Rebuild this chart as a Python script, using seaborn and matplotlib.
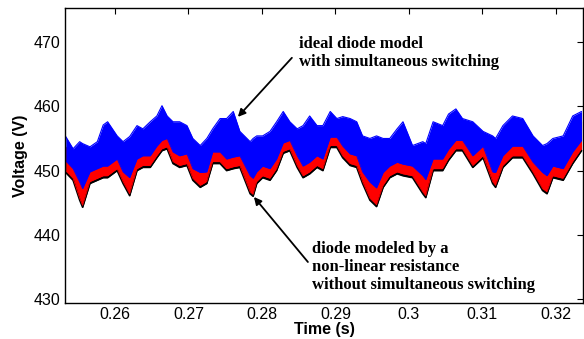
import matplotlib
matplotlib.use("Agg")
import matplotlib.pyplot as plt
import seaborn as sns
import pandas as pd

# ---- data (envelopes of the switching ripple) ----
time_s = [0.2533, 0.2543, 0.2552, 0.2556, 0.2566, 0.2576, 0.2584, 0.2590, 0.2603, 0.2611,
          0.2620, 0.2630, 0.2638, 0.2648, 0.2657, 0.2664, 0.2671, 0.2679, 0.2688, 0.2698,
          0.2706, 0.2716, 0.2725, 0.2733, 0.2743, 0.2752, 0.2761, 0.2770, 0.2784, 0.2788,
          0.2793, 0.2801, 0.2811, 0.2820, 0.2829, 0.2838, 0.2848, 0.2856, 0.2865, 0.2875,
          0.2883, 0.2893, 0.2902, 0.2910, 0.2920, 0.2929, 0.2937, 0.2947, 0.2956, 0.2965,
          0.2974, 0.2984, 0.2992, 0.3005, 0.3019, 0.3023, 0.3033, 0.3046, 0.3054, 0.3064,
          0.3073, 0.3087, 0.3101, 0.3114, 0.3118, 0.3128, 0.3141, 0.3155, 0.3169, 0.3182,
          0.3188, 0.3196, 0.3210, 0.3223, 0.3235]

ideal_high = [455.3, 453.4, 454.5, 454.2, 453.7, 454.5, 457.1, 457.6, 455.4, 454.5,
              455.3, 457.0, 456.5, 457.6, 458.5, 460.1, 458.5, 457.6, 457.6, 457.0,
              455.0, 453.9, 455.0, 456.5, 458.1, 458.1, 459.2, 456.1, 454.5, 455.0,
              455.4, 455.4, 456.1, 457.6, 459.2, 457.6, 456.5, 457.0, 458.5, 457.0,
              457.0, 459.2, 458.1, 458.4, 458.1, 457.6, 455.4, 455.0, 455.4, 455.0,
              455.0, 456.5, 457.6, 453.9, 454.5, 454.2, 457.6, 457.0, 458.8, 459.6,
              458.1, 457.6, 456.1, 455.4, 455.0, 457.0, 458.5, 458.1, 455.4, 453.9,
              454.2, 455.0, 455.4, 458.5, 459.2]

ideal_low = [451.5, 450.3, 448.2, 447.2, 449.8, 450.3, 450.7, 450.7, 451.8, 449.8,
             448.9, 451.8, 452.3, 452.3, 453.8, 454.7, 455.0, 452.9, 452.3, 452.6,
             450.3, 449.7, 449.8, 452.9, 452.9, 451.8, 452.1, 452.3, 449.2, 448.8,
             449.8, 450.7, 450.3, 451.8, 454.3, 454.7, 452.3, 450.7, 451.3, 452.3,
             451.8, 455.2, 455.2, 453.8, 452.6, 452.3, 449.8, 448.2, 447.3, 449.7,
             450.7, 451.3, 451.0, 450.7, 449.2, 448.6, 451.8, 451.8, 453.3, 454.7,
             454.7, 452.3, 453.8, 449.8, 449.7, 452.3, 453.8, 453.8, 451.3, 449.7,
             449.2, 450.7, 450.3, 452.9, 454.7]

nonlin_high = [453.8, 451.9, 453.0, 452.7, 452.2, 453.0, 455.6, 456.1, 453.9, 453.0,
               453.8, 455.5, 455.0, 456.1, 457.0, 458.6, 457.0, 456.1, 456.1, 455.5,
               453.5, 452.4, 453.5, 455.0, 456.6, 456.6, 457.7, 454.6, 453.0, 453.5,
               453.9, 453.9, 454.6, 456.1, 457.7, 456.1, 455.0, 455.5, 457.0, 455.5,
               455.5, 457.7, 456.6, 456.9, 456.6, 456.1, 453.9, 453.5, 453.9, 453.5,
               453.5, 455.0, 456.1, 452.4, 453.0, 452.7, 456.1, 455.5, 457.3, 458.1,
               456.6, 456.1, 454.6, 453.9, 453.5, 455.5, 457.0, 456.6, 453.9, 452.4,
               452.7, 453.5, 453.9, 457.0, 457.7]

nonlin_low = [450.0, 448.8, 445.7, 444.6, 448.3, 448.8, 449.2, 449.2, 450.3, 448.3,
              446.4, 450.3, 450.8, 450.8, 452.3, 453.4, 453.7, 451.4, 450.8, 451.1,
              448.8, 447.7, 448.3, 451.4, 451.4, 450.3, 450.6, 450.8, 446.7, 446.3,
              448.3, 449.2, 448.8, 450.3, 453.0, 453.4, 450.8, 449.2, 449.8, 450.8,
              450.3, 453.9, 453.9, 452.3, 451.1, 450.8, 448.3, 445.7, 444.7, 447.7,
              449.2, 449.8, 449.5, 449.2, 446.7, 446.1, 450.3, 450.3, 451.9, 453.4,
              453.4, 450.8, 452.3, 448.3, 447.7, 450.8, 452.3, 452.3, 449.8, 447.2,
              446.7, 449.2, 448.8, 451.4, 453.4]

black_low = [449.7, 448.5, 445.4, 444.3, 448.0, 448.5, 448.9, 448.9, 450.0, 448.0,
             446.1, 450.0, 450.5, 450.5, 452.0, 453.1, 453.4, 451.1, 450.5, 450.8,
             448.5, 447.4, 448.0, 451.1, 451.1, 450.0, 450.3, 450.5, 446.4, 446.0,
             448.0, 448.9, 448.5, 450.0, 452.7, 453.1, 450.5, 448.9, 449.5, 450.5,
             450.0, 453.6, 453.6, 452.0, 450.8, 450.5, 448.0, 445.4, 444.4, 447.4,
             448.9, 449.5, 449.2, 448.9, 446.4, 445.8, 450.0, 450.0, 451.6, 453.1,
             453.1, 450.5, 452.0, 448.0, 447.4, 450.5, 452.0, 452.0, 449.5, 446.9,
             446.4, 448.9, 448.5, 451.1, 453.1]

x_ticks = [0.26, 0.27, 0.28, 0.29, 0.30, 0.31, 0.32]
x_tick_labels = ["0.26", "0.27", "0.28", "0.29", "0.3", "0.31", "0.32"]
y_ticks = [430, 440, 450, 460, 470]

label_ideal = "ideal diode model\nwith simultaneous switching"
label_nonlin = "diode modeled by a\nnon-linear resistance\nwithout simultaneous switching"

df = pd.DataFrame({"t": time_s, "ih": ideal_high, "il": ideal_low,
                   "nh": nonlin_high, "nl": nonlin_low, "bl": black_low})

# ---- figure ----
sns.set_theme(style="white")
plt.rcParams["font.family"] = ["Liberation Sans", "DejaVu Sans"]
plt.rcParams["text.color"] = "black"
plt.rcParams["axes.labelcolor"] = "black"

fig = plt.figure(figsize=(5.84, 3.39), dpi=100)
ax = fig.add_axes([65 / 584, 1 - 303 / 339, 518 / 584, 295 / 339])

# black series (mostly hidden)
ax.fill_between(df["t"], df["bl"], df["nh"], color="black", lw=0)
sns.lineplot(data=df, x="t", y="bl", ax=ax, color="black", lw=1.2)
# red series
ax.fill_between(df["t"], df["nl"], df["nh"], color="#ff0000", lw=0)
sns.lineplot(data=df, x="t", y="nl", ax=ax, color="#ff0000", lw=0.6)
# blue series
ax.fill_between(df["t"], df["il"], df["ih"], color="#0000ff", lw=0)
sns.lineplot(data=df, x="t", y="ih", ax=ax, color="#0000ff", lw=0.8)
sns.lineplot(data=df, x="t", y="il", ax=ax, color="#0000ff", lw=0.6)

ax.set_xlim(0.2532, 0.3237)
ax.set_ylim(429.4, 475.3)
ax.set_xticks(x_ticks)
ax.set_xticklabels(x_tick_labels)
ax.set_yticks(y_ticks)
ax.tick_params(direction="in", length=4, width=0.8, top=True, right=True,
               labelsize=11.5, colors="black", pad=3)
for s in ax.spines.values():
    s.set_color("black")
    s.set_linewidth(1.0)
    s.set_visible(True)

ax.set_xlabel("Time (s)", fontsize=11.5, fontweight="bold", labelpad=0, color="black")
ax.set_ylabel("Voltage (V)", fontsize=11.5, fontweight="bold", labelpad=4, color="black")

serif = ["Liberation Serif", "DejaVu Serif"]
arrow_kw = dict(arrowstyle="-|>", color="black", lw=1.3, mutation_scale=11,
                shrinkA=0, shrinkB=0)

ax.text(0.2850, 470.9, label_ideal, fontsize=12, fontweight="bold", family=serif,
        ha="left", va="top", linespacing=1.15, color="black")
ax.annotate("", xy=(0.27673, 458.36), xytext=(0.28408, 467.55), arrowprops=arrow_kw)

ax.text(0.2868, 439.0, label_nonlin, fontsize=12, fontweight="bold", family=serif,
        ha="left", va="top", linespacing=1.15, color="black")
ax.annotate("", xy=(0.27891, 445.90), xytext=(0.28626, 435.78), arrowprops=arrow_kw)

fig.savefig("out.png", dpi=100)
